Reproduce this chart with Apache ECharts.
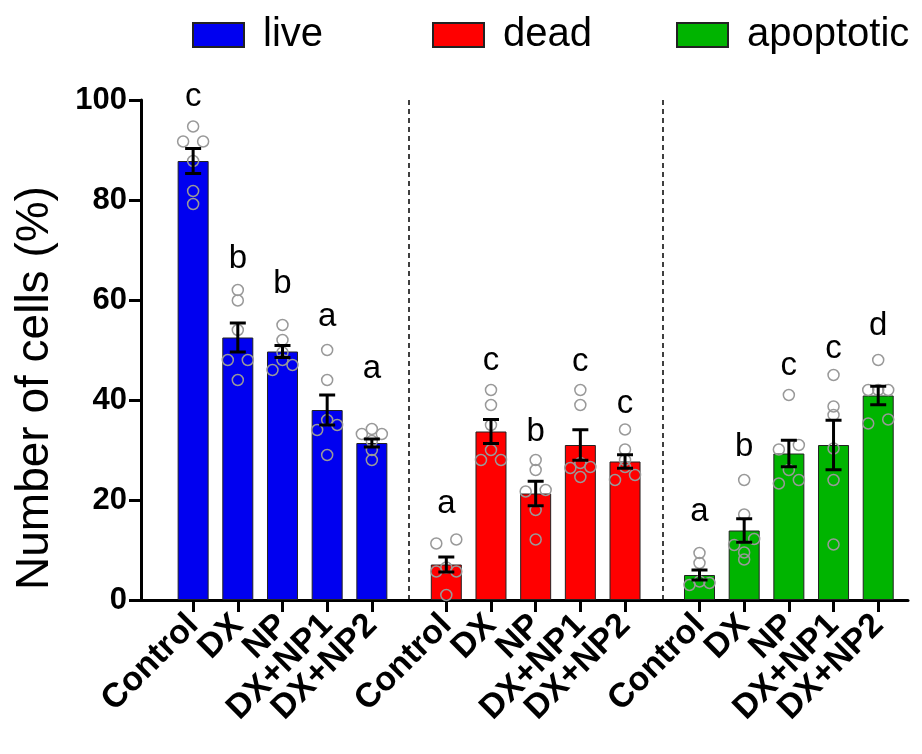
<!DOCTYPE html>
<html>
<head>
<meta charset="utf-8">
<title>Cell viability</title>
<script src="https://cdn.jsdelivr.net/npm/echarts@6/dist/echarts.min.js"></script>
<style>
  html, body { margin: 0; padding: 0; background: #fff; }
  #chart { width: 922px; height: 754px; }
</style>
</head>
<body>
<div id="chart"></div>
<script>
// Treatments shown inside every panel
const categories = ['Control', 'DX', 'NP', 'DX+NP1', 'DX+NP2'];
const groupNames = ['live', 'dead', 'apoptotic'];
const yTicks = [0, 20, 40, 60, 80, 100];

// Mean and SEM (% of cells)
const liveMean = [87.8, 52.5, 49.7, 38.0, 31.4];
const liveSem  = [2.5, 2.9, 1.2, 3.0, 0.8];
const deadMean = [7.1, 33.7, 21.3, 31.0, 27.7];
const deadSem  = [1.5, 2.4, 2.45, 3.05, 1.35];
const apopMean = [5.0, 13.9, 29.3, 31.0, 40.9];
const apopSem  = [1.0, 2.35, 2.65, 4.95, 1.85];

// Individual replicates
const livePoints = [
  [94.7, 91.7, 91.7, 87.8, 81.8, 79.2],
  [62, 59.9, 54, 48, 48, 44],
  [55, 52, 49.5, 48, 47, 46],
  [50, 44, 36, 35, 34, 29],
  [34.2, 33.2, 33.2, 31.8, 30, 28]
];
const deadPoints = [
  [12.1, 11.3, 6.5, 5.7, 5.7, 1.0],
  [42, 39, 35, 30, 28, 28],
  [28, 26, 22, 21.7, 18, 12.1],
  [42, 39, 27.4, 26.6, 26.4, 24.6],
  [34.1, 30.1, 28, 26.6, 25, 24]
];
const apopPoints = [
  [9.4, 7.4, 3.7, 3.4, 3.0],
  [24, 17.1, 12.2, 11, 9.5, 8.1],
  [41, 31, 30.1, 26, 24, 23.3],
  [45, 38.7, 37, 30.3, 24, 11.1],
  [48, 42, 42, 42, 36.1, 35.3]
];

// Significance letters and the level (baseline, % units) they sit at
const liveLetters = ['c', 'b', 'b', 'a', 'a'];
const liveLetterAt = [98.4, 66, 61, 54.4, 44];
const deadLetters = ['a', 'c', 'b', 'c', 'c'];
const deadLetterAt = [17, 45.5, 31.4, 45.4, 37];
const apopLetters = ['a', 'b', 'c', 'c', 'd'];
const apopLetterAt = [15.4, 28.4, 44.6, 48, 52.6];

const FONT = '"Liberation Sans", Arial, sans-serif';
const COLORS = ['#0000f0', '#ff0000', '#00b400'];

// The x axis is a fine category grid: each bar slot is SUB steps wide,
// panels are PANEL_STEP steps apart, with a margin before the first bar.
const SUB = 6;
const PANEL_STEP = 34;
const LEAD = 7;
const AXIS_STEPS = 104;
const SPREAD = 10;         // px between side-by-side replicate dots
const LETTER_SIZE = 33;

const groups = [
  { mean: liveMean, sem: liveSem, pts: livePoints, letters: liveLetters, at: liveLetterAt },
  { mean: deadMean, sem: deadSem, pts: deadPoints, letters: deadLetters, at: deadLetterAt },
  { mean: apopMean, sem: apopSem, pts: apopPoints, letters: apopLetters, at: apopLetterAt }
];

function xPos(g, i) { return LEAD + g * PANEL_STEP + i * SUB; }

// Spread near-equal replicate values sideways so the dots stay readable
function spreadOffsets(vals) {
  const idx = vals.map((v, i) => i).sort((a, b) => vals[b] - vals[a]);
  const off = new Array(vals.length).fill(0);
  let k = 0;
  while (k < idx.length) {
    let j = k;
    while (j + 1 < idx.length && vals[idx[j]] - vals[idx[j + 1]] < 1.3) j++;
    const n = j - k + 1;
    const seq = n % 2 ? [0, 1, -1, 2, -2, 3, -3] : [1, -1, 2, -2, 3, -3];
    for (let m = 0; m < n; m++) off[idx[k + m]] = seq[m] * SPREAD;
    k = j + 1;
  }
  return off;
}

const axisSteps = Array.from({ length: AXIS_STEPS }, (_, k) => 'step' + k);
const labelAt = {};
groups.forEach((g, gi) => categories.forEach((c, i) => { labelAt[xPos(gi, i)] = c; }));

const series = [];
groups.forEach((g, gi) => {
  series.push({
    name: groupNames[gi],
    type: 'bar',
    barWidth: 31,
    barGap: '-100%',
    itemStyle: { color: COLORS[gi], borderColor: '#222', borderWidth: 1 },
    data: g.mean.map((m, i) => [xPos(gi, i), m]),
    z: 2,
    markLine: gi === 0 ? {
      silent: true,
      symbol: 'none',
      label: { show: false },
      lineStyle: { color: '#000', width: 1.5, type: [5, 4] },
      data: [
        { xAxis: (xPos(0, 4) + xPos(1, 0)) / 2 },
        { xAxis: (xPos(1, 4) + xPos(2, 0)) / 2 }
      ]
    } : undefined
  });
});

// Replicate dots
const dotData = [];
groups.forEach((g, gi) => g.pts.forEach((vals, i) => {
  const off = spreadOffsets(vals);
  vals.forEach((v, k) => dotData.push({ value: [xPos(gi, i), v], symbolOffset: [off[k], 0] }));
}));
series.push({
  type: 'scatter',
  symbol: 'circle',
  symbolSize: 11,
  itemStyle: { color: 'rgba(0,0,0,0)', borderColor: '#999', borderWidth: 1.5, opacity: 1 },
  data: dotData,
  z: 4,
  silent: true
});

// Error bars (mean ± SEM)
const errData = [];
groups.forEach((g, gi) => g.mean.forEach((m, i) => errData.push([xPos(gi, i), m, g.sem[i]])));
series.push({
  type: 'custom',
  data: errData,
  z: 5,
  silent: true,
  renderItem: function (params, api) {
    const x = api.value(0), m = api.value(1), s = api.value(2);
    const top = api.coord([x, m + s]);
    const bot = api.coord([x, m - s]);
    const w = 8;
    const st = { stroke: '#000', lineWidth: 3 };
    return {
      type: 'group',
      children: [
        { type: 'line', shape: { x1: top[0], y1: top[1], x2: bot[0], y2: bot[1] }, style: st },
        { type: 'line', shape: { x1: top[0] - w, y1: top[1], x2: top[0] + w, y2: top[1] }, style: st },
        { type: 'line', shape: { x1: bot[0] - w, y1: bot[1], x2: bot[0] + w, y2: bot[1] }, style: st }
      ]
    };
  }
});

// Significance letters
const letterData = [];
groups.forEach((g, gi) => g.letters.forEach((l, i) => letterData.push([xPos(gi, i), g.at[i], l])));
series.push({
  type: 'custom',
  data: letterData,
  z: 6,
  silent: true,
  renderItem: function (params, api) {
    const p = api.coord([api.value(0), api.value(1)]);
    return {
      type: 'text',
      style: {
        text: letterData[params.dataIndex][2],
        x: p[0],
        y: p[1] - LETTER_SIZE * 0.35,
        align: 'center',
        verticalAlign: 'middle',
        font: LETTER_SIZE + 'px ' + FONT,
        fill: '#000'
      }
    };
  }
});

const legendLefts = [192, 432, 676];
const chart = echarts.init(document.getElementById('chart'), null, { renderer: 'canvas' });
chart.setOption({
  animation: false,
  backgroundColor: '#fff',
  textStyle: { fontFamily: FONT },
  legend: groupNames.map((n, i) => ({
    data: [n],
    left: legendLefts[i],
    top: 15,
    padding: 0,
    icon: 'rect',
    itemWidth: 51,
    itemHeight: 24,
    selectedMode: false,
    textStyle: { fontSize: 40, color: '#000', fontFamily: FONT, padding: [0, 0, 14, 14] }
  })),
  grid: { left: 141, right: 14, top: 100, bottom: 154, containLabel: false },
  xAxis: {
    type: 'category',
    data: axisSteps,
    boundaryGap: false,
    splitLine: { show: false },
    axisLine: { onZero: false, lineStyle: { color: '#000', width: 3 } },
    axisTick: {
      interval: idx => labelAt[idx] !== undefined,
      length: 12,
      lineStyle: { color: '#000', width: 3 }
    },
    axisLabel: {
      interval: 0,
      formatter: (v, idx) => labelAt[idx] || '',
      rotate: 45,
      margin: 20,
      color: '#000',
      fontSize: 34,
      fontWeight: 'bold',
      fontFamily: FONT
    }
  },
  yAxis: {
    type: 'value',
    min: yTicks[0],
    max: yTicks[yTicks.length - 1],
    interval: yTicks[1] - yTicks[0],
    splitLine: { show: false },
    axisLine: { show: true, onZero: false, lineStyle: { color: '#000', width: 3 } },
    axisTick: { show: true, length: 12, lineStyle: { color: '#000', width: 3 } },
    axisLabel: { margin: 14, color: '#000', fontSize: 31, fontWeight: 'bold', fontFamily: FONT }
  },
  graphic: [{
    type: 'text',
    x: 35,
    y: 388,
    rotation: Math.PI / 2,
    style: {
      text: 'Number of cells (%)',
      align: 'center',
      verticalAlign: 'middle',
      font: '46px ' + FONT,
      fill: '#000'
    }
  }],
  series: series
});
</script>
</body>
</html>
